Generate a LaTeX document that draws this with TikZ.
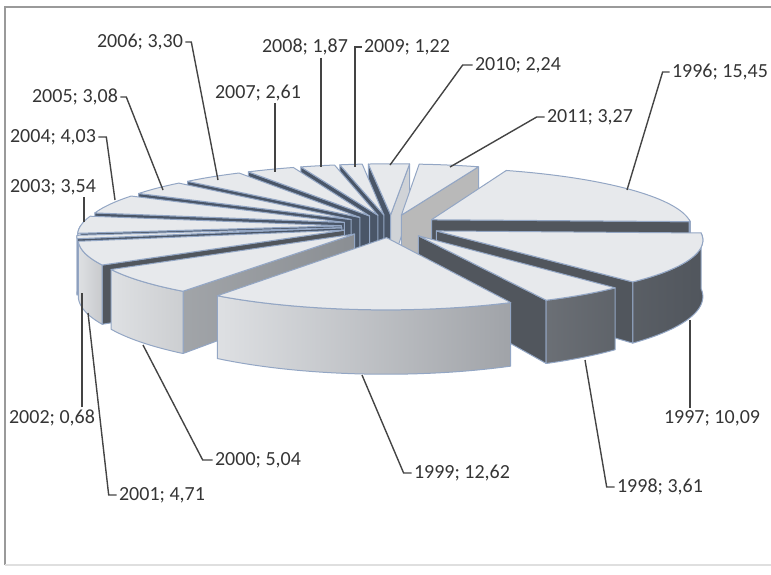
\documentclass[tikz,border=0pt]{standalone}
\usepackage{fontspec}
\setmainfont{Carlito}
\usetikzlibrary{calc}

\definecolor{topgray}{HTML}{E7E9EC}
\definecolor{rimblue}{HTML}{93A6C4}
\definecolor{backdark}{HTML}{4A5668}
\definecolor{sidedark}{HTML}{51565D}
\definecolor{sidemid}{HTML}{8A8E93}
\definecolor{sidepale}{HTML}{D0D3D7}
\definecolor{frontpale}{HTML}{DEE0E3}
\definecolor{frontgray}{HTML}{A0A3A8}
\definecolor{labeltext}{HTML}{353535}
\definecolor{leadergray}{HTML}{444444}
\definecolor{framegray}{HTML}{9A9A9A}

% explosion of every slice, in pie radii
\newcommand\pex{0.19}
\newcommand\setslice[2]{%
  \pgfmathsetmacro\slx{\pex*cos(((#1)+(#2))/2)}%
  \pgfmathsetmacro\sly{\pex*sin(((#1)+(#2))/2)}}
\newcommand\slicetop[2]{%
  \path[topface] ({px(\slx,\sly)},{py(\sly,0)})
    -- plot[domain=#1:#2,samples=40,variable=\t]
       ({px(\slx+cos(\t),\sly+sin(\t))},{py(\sly+sin(\t),0)}) -- cycle;}
\newcommand\sliceside[3]{%
  \path[edge,#3] plot[domain=#1:#2,samples=30,variable=\t]
       ({px(\slx+cos(\t),\sly+sin(\t))},{py(\sly+sin(\t),0)})
    -- plot[domain=#1:#2,samples=30,variable=\t]
       ({px(\slx+cos((#1)+(#2)-\t),\sly+sin((#1)+(#2)-\t))},{py(\sly+sin((#1)+(#2)-\t),1)})
    -- cycle;}
\newcommand\sliceface[2]{%
  \path[edge,#2] ({px(\slx,\sly)},{py(\sly,0)})
    -- ({px(\slx+cos(#1),\sly+sin(#1))},{py(\sly+sin(#1),0)})
    -- ({px(\slx+cos(#1),\sly+sin(#1))},{py(\sly+sin(#1),1)})
    -- ({px(\slx,\sly)},{py(\sly,1)}) -- cycle;}

\begin{document}
\begin{tikzpicture}[x=0.5pt,y=0.5pt,
    declare function={pg(\pv)=1/(1+0.125*\pv);
      px(\pu,\pv)=391+261*\pu*pg(\pv);
      py(\pv,\pw)=-(226+261*pg(\pv)*(0.21*\pw-0.23*\pv));},
    edge/.style={draw=rimblue, line width=0.5pt, line join=round},
    topface/.style={edge, fill=topgray},
    backface/.style={fill=backdark},
    darkface/.style={fill=sidedark},
    lbl/.style={font=\fontsize{10}{12}\selectfont, text=labeltext, inner sep=1pt},
    leader/.style={draw=leadergray, line width=0.7pt}
  ]
  \useasboundingbox (0,0) rectangle (771,-574);
  \draw[framegray, line width=0.8pt] (771,-7) -- (5,-7) -- (5,-565);
  \draw[gray!25, line width=0.6pt] (5,-565) -- (771,-565);

  % back slices first
  % 2010
  \setslice{-274.77}{-264.35}
  \sliceface{-264.35}{backface}
  \sliceface{-274.77}{fill=sidepale}
  \slicetop{-274.77}{-264.35}
  % 2009
  \setslice{-264.35}{-258.67}
  \sliceface{-258.67}{backface}
  \slicetop{-264.35}{-258.67}
  % 2011
  \setslice{-289.99}{-274.77}
  \sliceface{-289.99}{fill=gray!55}
  \slicetop{-289.99}{-274.77}
  % 2008
  \setslice{-258.67}{-249.97}
  \sliceface{-249.97}{backface}
  \slicetop{-258.67}{-249.97}
  % 2007
  \setslice{-249.97}{-237.82}
  \sliceface{-237.82}{backface}
  \slicetop{-249.97}{-237.82}
  % 2006
  \setslice{-237.82}{-222.46}
  \sliceface{-222.46}{backface}
  \slicetop{-237.82}{-222.46}
  % 2005
  \setslice{-222.46}{-208.13}
  \sliceface{-208.13}{backface}
  \slicetop{-222.46}{-208.13}
  % 1996
  \setslice{-1.9}{70}
  \sliceface{-1.9}{darkface}
  \sliceside{-1.9}{0}{darkface}
  \slicetop{-1.9}{70}
  % 2004
  \setslice{-208.13}{-189.38}
  \sliceface{-189.38}{backface}
  \slicetop{-208.13}{-189.38}
  % 2003
  \setslice{-189.38}{-172.91}
  \sliceface{-172.91}{backface}
  \sliceside{-180}{-172.91}{fill=frontpale}
  \slicetop{-189.38}{-172.91}
  % 2002
  \setslice{-172.91}{-169.75}
  \sliceface{-169.75}{backface}
  \sliceside{-172.91}{-169.75}{fill=frontpale}
  \slicetop{-172.91}{-169.75}
  % 2001
  \setslice{-169.75}{-147.83}
  \sliceface{-147.83}{darkface}
  \sliceside{-169.75}{-147.83}{left color=frontpale, right color=frontpale!90!black}
  \slicetop{-169.75}{-147.83}
  % 1997
  \setslice{-48.85}{-1.9}
  \sliceface{-48.85}{darkface}
  \sliceside{-48.85}{-1.9}{left color=sidedark!95!white, right color=sidedark}
  \slicetop{-48.85}{-1.9}
  % 2000
  \setslice{-147.83}{-124.38}
  \sliceface{-124.38}{left color=sidemid!80!white, right color=sidemid}
  \sliceside{-147.83}{-124.38}{left color=frontpale, right color=frontpale!92!black}
  \slicetop{-147.83}{-124.38}
  % 1998
  \setslice{-65.65}{-48.85}
  \sliceface{-65.65}{darkface}
  \sliceside{-65.65}{-48.85}{left color=sidedark!85!white, right color=sidedark!92!white}
  \slicetop{-65.65}{-48.85}
  % 1999
  \setslice{-124.38}{-65.65}
  \sliceside{-124.38}{-65.65}{left color=frontpale, right color=frontgray}
  \slicetop{-124.38}{-65.65}

  % labels
  \node[lbl] (l2006) at (140,-42) {2006; 3,30};
  \node[lbl] (l2005) at (75,-97) {2005; 3,08};
  \node[lbl] (l2004) at (53,-137) {2004; 4,03};
  \node[lbl] (l2003) at (53,-187) {2003; 3,54};
  \node[lbl] (l2007) at (258,-93) {2007; 2,61};
  \node[lbl] (l2008) at (305,-47) {2008; 1,87};
  \node[lbl] (l2009) at (407,-47) {2009; 1,22};
  \node[lbl] (l2010) at (518,-65) {2010; 2,24};
  \node[lbl] (l2011) at (590,-117) {2011; 3,27};
  \node[lbl] (l1996) at (720,-72) {1996; 15,45};
  \node[lbl] (l1997) at (712,-418) {1997; 10,09};
  \node[lbl] (l1998) at (660,-487) {1998; 3,61};
  \node[lbl] (l1999) at (462,-473) {1999; 12,62};
  \node[lbl] (l2000) at (258,-460) {2000; 5,04};
  \node[lbl] (l2001) at (162,-495) {2001; 4,71};
  \node[lbl] (l2002) at (52,-418) {2002; 0,68};

  % where the leaders touch the slices
  \coordinate (p2006) at (218,-180);
  \coordinate (p2005) at (163,-190);
  \coordinate (p2004) at (115,-200);
  \coordinate (p2003) at (84,-222);
  \coordinate (p2007) at (275,-172);
  \coordinate (p2008) at (321,-167);
  \coordinate (p2009) at (355,-167);
  \coordinate (p2010) at (390,-165);
  \coordinate (p2011) at (450,-167);
  \coordinate (p1996) at (627,-190);
  \coordinate (p1997) at (690,-320);
  \coordinate (p1998) at (585,-360);
  \coordinate (p1999) at (362,-375);
  \coordinate (p2000) at (143,-345);
  \coordinate (p2001) at (88,-313);
  \coordinate (p2002) at (82,-293);

  \draw[leader] (l2006.east) -- ++(6,0) -- (p2006);
  \draw[leader] (l2005.east) -- ++(6,0) -- (p2005);
  \draw[leader] (l2004.east) -- ++(8,0) -- (p2004);
  \draw[leader] (p2003 |- l2003.south) -- (p2003);
  \draw[leader] (p2007 |- l2007.south) -- (p2007);
  \draw[leader] (p2008 |- l2008.south) -- (p2008);
  \draw[leader] (l2009.west) -- (p2009 |- l2009.west) -- (p2009);
  \draw[leader] (l2010.west) -- ++(-10,0) -- (p2010);
  \draw[leader] (l2011.west) -- ++(-8,0) -- (p2011);
  \draw[leader] (l1996.west) -- ++(-7,0) -- (p1996);
  \draw[leader] (p1997 |- l1997.north) -- (p1997);
  \draw[leader] (l1998.west) -- ++(-8,0) -- (p1998);
  \draw[leader] (l1999.west) -- ++(-8,0) -- (p1999);
  \draw[leader] (l2000.west) -- ++(-10,0) -- (p2000);
  \draw[leader] (l2001.west) -- ++(-8,0) -- (p2001);
  \draw[leader] (p2002 |- l2002.north) -- (p2002);
\end{tikzpicture}
\end{document}
